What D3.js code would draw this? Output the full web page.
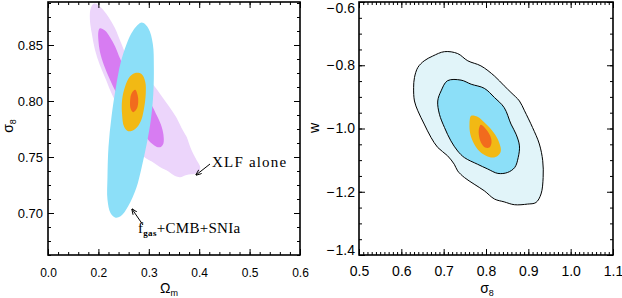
<!DOCTYPE html>
<html>
<head>
<meta charset="utf-8">
<script src="https://cdn.jsdelivr.net/npm/d3@7"></script>
<style>
body { margin: 0; background: #fff; }
svg { display: block; }
</style>
</head>
<body>
<div id="chart"></div>
<script>
var width = 622;
var height = 298;

// left panel: contours in (Omega_m, sigma_8)
var xlfOuter = [[0.192,0.887],[0.206,0.883],[0.220,0.875],[0.233,0.865],[0.244,0.853],[0.256,0.841],
  [0.283,0.826],[0.306,0.816],[0.326,0.804],[0.345,0.792],[0.355,0.785],[0.365,0.776],[0.375,0.768],
  [0.383,0.758],[0.395,0.747],[0.402,0.741],[0.400,0.737],[0.392,0.735],[0.375,0.734],[0.362,0.732],
  [0.352,0.733],[0.339,0.737],[0.322,0.741],[0.306,0.746],[0.289,0.751],[0.256,0.780],[0.226,0.807],
  [0.215,0.819],[0.203,0.832],[0.193,0.846],[0.187,0.860],[0.183,0.874],[0.185,0.883]];
var xlfInner = [[0.203,0.865],[0.213,0.863],[0.223,0.857],[0.233,0.849],[0.243,0.838],[0.256,0.826],
  [0.283,0.810],[0.306,0.796],[0.316,0.787],[0.324,0.779],[0.329,0.770],[0.329,0.762],[0.324,0.759],
  [0.316,0.759],[0.306,0.762],[0.296,0.767],[0.269,0.783],[0.236,0.807],[0.223,0.819],[0.211,0.832],
  [0.203,0.844],[0.200,0.854],[0.200,0.862]];
var fgasOuter = [[0.286,0.870],[0.299,0.865],[0.308,0.851],[0.310,0.831],[0.309,0.807],[0.304,0.783],
  [0.296,0.762],[0.286,0.741],[0.275,0.722],[0.259,0.706],[0.244,0.697],[0.233,0.696],[0.224,0.700],
  [0.218,0.712],[0.218,0.732],[0.220,0.759],[0.226,0.786],[0.235,0.813],[0.244,0.834],[0.256,0.851],
  [0.269,0.863]];
var allOuterL = [[0.273,0.825],[0.286,0.824],[0.293,0.817],[0.294,0.807],[0.290,0.792],[0.284,0.782],
  [0.273,0.775],[0.259,0.773],[0.251,0.777],[0.247,0.788],[0.247,0.801],[0.253,0.813],[0.263,0.822]];
var allInnerL = [[0.273,0.810],[0.278,0.805],[0.279,0.799],[0.276,0.793],[0.269,0.790],[0.264,0.793],
  [0.263,0.801],[0.266,0.807]];

// right panel: contours in (sigma_8, w)
var wOuter = [[0.702,-0.757],[0.733,-0.763],[0.757,-0.786],[0.788,-0.802],[0.820,-0.834],[0.843,-0.865],
  [0.859,-0.886],[0.879,-0.913],[0.891,-0.944],[0.910,-0.997],[0.926,-1.049],[0.934,-1.102],
  [0.935,-1.155],[0.930,-1.207],[0.918,-1.234],[0.898,-1.239],[0.867,-1.241],[0.843,-1.232],
  [0.820,-1.223],[0.796,-1.197],[0.772,-1.176],[0.749,-1.155],[0.733,-1.134],[0.725,-1.113],
  [0.709,-1.086],[0.686,-1.060],[0.670,-1.028],[0.654,-0.986],[0.639,-0.944],[0.631,-0.913],
  [0.629,-0.871],[0.631,-0.839],[0.639,-0.807],[0.654,-0.786],[0.674,-0.771]];
var wInner = [[0.709,-0.849],[0.741,-0.847],[0.765,-0.860],[0.796,-0.873],[0.820,-0.902],[0.843,-0.934],
  [0.859,-0.986],[0.871,-1.018],[0.879,-1.055],[0.876,-1.092],[0.868,-1.123],[0.851,-1.139],
  [0.828,-1.142],[0.804,-1.128],[0.780,-1.113],[0.749,-1.092],[0.733,-1.071],[0.717,-1.039],
  [0.702,-0.997],[0.690,-0.955],[0.686,-0.913],[0.694,-0.881]];
var allOuterR = [[0.765,-0.960],[0.780,-0.963],[0.800,-0.986],[0.818,-1.013],[0.831,-1.044],[0.835,-1.071],
  [0.828,-1.086],[0.816,-1.092],[0.800,-1.086],[0.784,-1.071],[0.772,-1.049],[0.763,-1.018],[0.761,-0.986]];
var allInnerR = [[0.788,-0.988],[0.800,-1.002],[0.810,-1.023],[0.813,-1.044],[0.808,-1.060],[0.798,-1.060],
  [0.788,-1.044],[0.783,-1.018],[0.784,-0.997]];

// ticks
var xTicksL = [0.1, 0.2, 0.3, 0.4, 0.5, 0.6];
var xLabelsL = ["0.0", "0.2", "0.3", "0.4", "0.5", "0.6"];
var yTicksL = [0.70, 0.75, 0.80, 0.85];
var xTicksR = [0.5, 0.6, 0.7, 0.8, 0.9, 1.0, 1.1];
var yTicksR = [-1.4, -1.2, -1.0, -0.8, -0.6];

var svg = d3.select("#chart")
  .append("svg")
    .attr("width", width)
    .attr("height", height)
    .style("background-color", "#ffffff");

var xL = d3.scaleLinear().domain([0.1, 0.6]).range([48, 300]);
var yL = d3.scaleLinear().domain([0.6625, 0.8884]).range([255, 2]);
var xR = d3.scaleLinear().domain([0.5, 1.1]).range([359, 613]);
var yR = d3.scaleLinear().domain([-1.4, -0.6]).range([255, 2]);

var defs = svg.append("defs");
defs.append("clipPath").attr("id", "clipL").append("rect")
  .attr("x", 48).attr("y", 2).attr("width", 252).attr("height", 253);
defs.append("clipPath").attr("id", "clipR").append("rect")
  .attr("x", 359).attr("y", 2).attr("width", 254).attr("height", 253);

function shape(x, y) {
  return d3.line()
    .x(function(d) { return x(d[0]); })
    .y(function(d) { return y(d[1]); })
    .curve(d3.curveCatmullRomClosed.alpha(0.5));
}

var lineL = shape(xL, yL);
var lineR = shape(xR, yR);

var gL = svg.append("g").attr("clip-path", "url(#clipL)");
gL.append("path").attr("d", lineL(xlfOuter)).attr("fill", "#ecd5fb");
gL.append("path").attr("d", lineL(xlfInner)).attr("fill", "#d77cf2");
gL.append("path").attr("d", lineL(fgasOuter)).attr("fill", "#8cdff8");
gL.append("path").attr("d", lineL(allOuterL)).attr("fill", "#f2b914");
gL.append("path").attr("d", lineL(allInnerL)).attr("fill", "#f26b1d");

var gR = svg.append("g").attr("clip-path", "url(#clipR)");
gR.append("path").attr("d", lineR(wOuter)).attr("fill", "#e1f4f9")
  .attr("stroke", "#000").attr("stroke-width", 1);
gR.append("path").attr("d", lineR(wInner)).attr("fill", "#8cdff8")
  .attr("stroke", "#000").attr("stroke-width", 1);
gR.append("path").attr("d", lineR(allOuterR)).attr("fill", "#f2b914");
gR.append("path").attr("d", lineR(allInnerR)).attr("fill", "#f26b1d");

// inward ticks on all four sides
function frameTicks(x, y, xMajor, xMinor, yMajor, yMinor, maj, mnr) {
  var x0 = x.range()[0], x1 = x.range()[1];
  var y0 = y.range()[1], y1 = y.range()[0];
  var sets = [
    [d3.axisBottom(x), "translate(0," + y1 + ")", xMajor, xMinor],
    [d3.axisTop(x), "translate(0," + y0 + ")", xMajor, xMinor],
    [d3.axisLeft(y), "translate(" + x0 + ",0)", yMajor, yMinor],
    [d3.axisRight(y), "translate(" + x1 + ",0)", yMajor, yMinor]
  ];
  sets.forEach(function(s) {
    var a = s[0];
    svg.append("g").attr("transform", s[1])
      .call(a.tickValues(s[3]).tickSize(-mnr).tickSizeOuter(0).tickFormat(""))
      .call(function(g) { g.select(".domain").remove(); });
    svg.append("g").attr("transform", s[1])
      .call(a.tickValues(s[2]).tickSize(-maj).tickSizeOuter(0).tickFormat(""))
      .call(function(g) { g.select(".domain").remove(); });
  });
  svg.append("rect")
    .attr("x", x0).attr("y", y0)
    .attr("width", x1 - x0).attr("height", y1 - y0)
    .attr("fill", "none").attr("stroke", "#000").attr("stroke-width", 1.6);
}

frameTicks(xL, yL, xTicksL, d3.range(0.1, 0.601, 0.02), yTicksL, d3.range(0.6625, 0.888, 0.0125).map(function(d, i) { return 0.70 + (i - 3) * 0.0125; }), 6, 3);
frameTicks(xR, yR, xTicksR, d3.range(0.5, 1.101, 0.01), yTicksR, d3.range(-1.4, -0.599, 0.05), 6, 3);

// tick labels
var font = "Liberation Sans, Arial, sans-serif";
var fmtR = function(d) { return d3.format(".1f")(d).replace("\u2212", "\u2212\u200a"); };

svg.append("g").attr("transform", "translate(0,255)")
  .call(d3.axisBottom(xL).tickValues(xTicksL).tickSize(0).tickPadding(13)
    .tickFormat(function(d, i) { return xLabelsL[i]; }))
  .call(function(g) { g.select(".domain").remove(); })
  .selectAll("text").attr("font-family", font).attr("font-size", 12).attr("fill", "#000");

svg.append("g").attr("transform", "translate(48,0)")
  .call(d3.axisLeft(yL).tickValues(yTicksL).tickSize(0).tickPadding(5).tickFormat(d3.format(".2f")))
  .call(function(g) { g.select(".domain").remove(); })
  .selectAll("text").attr("font-family", font).attr("font-size", 13).attr("fill", "#000");

svg.append("g").attr("transform", "translate(0,255)")
  .call(d3.axisBottom(xR).tickValues(xTicksR).tickSize(0).tickPadding(11).tickFormat(d3.format(".1f")))
  .call(function(g) { g.select(".domain").remove(); })
  .selectAll("text").attr("font-family", font).attr("font-size", 14).attr("fill", "#000");

svg.append("g").attr("transform", "translate(359,0)")
  .call(d3.axisLeft(yR).tickValues(yTicksR).tickSize(0).tickPadding(4).tickFormat(fmtR))
  .call(function(g) { g.select(".domain").remove(); })
  .selectAll("text")
    .attr("font-family", font).attr("font-size", 14).attr("fill", "#000")
    .attr("y", function(d) { return d === -0.6 ? 6 : (d === -1.4 ? -5 : 0); });

// axis titles
function title(x, y, main, sub, rot) {
  var t = svg.append("text")
    .attr("font-family", font).attr("font-size", 14).attr("fill", "#000")
    .attr("text-anchor", "middle")
    .attr("transform", "translate(" + x + "," + y + ")" + (rot ? " rotate(-90)" : ""));
  t.append("tspan").text(main);
  if (sub) t.append("tspan").attr("font-size", 9).attr("dy", 3).text(sub);
}
title(169, 293, "\u03a9", "m", false);
title(13, 126, "\u03c3", "8", true);
title(487, 293, "\u03c3", "8", false);
title(319, 128, "w", null, true);

// annotations
var serif = "Liberation Serif, Times New Roman, serif";
svg.append("text").attr("x", 212).attr("y", 167)
  .attr("font-family", serif).attr("font-size", 15).attr("letter-spacing", 1.2)
  .text("XLF alone");

var fg = svg.append("text").attr("x", 138).attr("y", 233)
  .attr("font-family", serif).attr("font-size", 15).attr("letter-spacing", 0.3);
fg.append("tspan").text("f");
fg.append("tspan").attr("font-size", 9).attr("font-weight", "bold").attr("dy", 3).text("gas");
fg.append("tspan").attr("dy", -3).text("+CMB+SNIa");

defs.append("marker").attr("id", "arrow")
  .attr("viewBox", "0 0 10 10").attr("refX", 9).attr("refY", 5)
  .attr("markerWidth", 6).attr("markerHeight", 6).attr("orient", "auto")
  .append("path").attr("d", "M0,1L10,5L0,9").attr("fill", "none").attr("stroke", "#000").attr("stroke-width", 1.5);

var arrows = [[[210, 164], [196, 175]], [[143, 225], [132, 209]]];
svg.selectAll("line.arrow").data(arrows).join("line")
  .attr("class", "arrow")
  .attr("x1", function(d) { return d[0][0]; }).attr("y1", function(d) { return d[0][1]; })
  .attr("x2", function(d) { return d[1][0]; }).attr("y2", function(d) { return d[1][1]; })
  .attr("stroke", "#000").attr("stroke-width", 1)
  .attr("marker-end", "url(#arrow)");
</script>
</body>
</html>
